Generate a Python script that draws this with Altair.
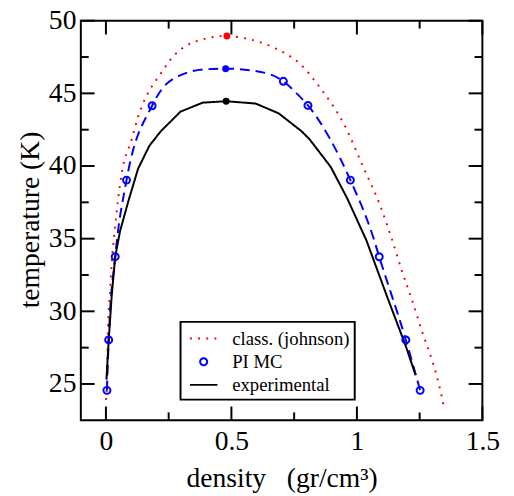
import altair as alt
import pandas as pd

SERIES = ["class. (johnson)", "PI MC", "experimental"]
COLORS = ["#ff0000", "#0000ff", "#000000"]

# classical (johnson) curve
class_x = [0.000, 0.004, 0.008, 0.017, 0.023, 0.034, 0.062, 0.102, 0.134, 0.167, 0.212, 0.271, 0.323, 0.382,
           0.482, 0.551, 0.675, 0.775, 0.857, 0.948, 1.026, 1.091, 1.137, 1.180, 1.221, 1.260, 1.300, 1.319, 1.336, 1.348]
class_t = [23.9, 25.0, 28.8, 31.5, 33.3, 35.4, 39.4, 41.8, 43.7, 45.0, 46.2, 47.6, 48.3, 48.7,
           48.95, 48.8, 48.1, 47.0, 45.3, 42.9, 39.9, 37.35, 35.1, 32.75, 30.7, 28.6, 26.6, 25.5, 24.3, 23.3]

# PI MC points
pimc_x = [0.004, 0.011, 0.037, 0.082, 0.184, 0.707, 0.805, 0.974, 1.089, 1.195, 1.252]
pimc_t = [24.56, 28.03, 33.76, 39.03, 44.15, 45.83, 44.17, 39.03, 33.75, 28.03, 24.56]

# PI MC dashed curve
fit_x = [0.004, 0.011, 0.037, 0.082, 0.184, 0.219, 0.297, 0.400, 0.477, 0.596, 0.707, 0.766, 0.805,
         0.974, 1.065, 1.089, 1.195, 1.252]
fit_t = [24.56, 28.03, 33.76, 39.03, 44.15, 45.2, 46.25, 46.66, 46.7, 46.54, 45.83, 44.9, 44.17,
         39.03, 35.1, 33.75, 28.03, 24.56]

# experimental curve
exp_x = [0.002, 0.011, 0.023, 0.037, 0.056, 0.089, 0.128, 0.173, 0.219, 0.297, 0.385, 0.479, 0.596,
         0.688, 0.779, 0.811, 0.896, 0.961, 1.038, 1.124, 1.195, 1.234]
exp_t = [25.3, 28.0, 31.06, 33.76, 35.5, 37.56, 39.81, 41.39, 42.4, 43.74, 44.36, 44.46, 44.3,
         43.63, 42.4, 41.85, 39.93, 37.79, 34.88, 30.84, 27.6, 25.6]

# critical points (filled dots)
peak_x = [0.482, 0.477, 0.479]
peak_t = [48.95, 46.7, 44.46]

x_major = [0, 0.5, 1.0, 1.5]
x_minor = [0.25, 0.75, 1.25]
y_major = [25, 30, 35, 40, 45, 50]
y_minor = [27.5, 32.5, 37.5, 42.5, 47.5]

FONT = "Liberation Serif"
W = 408
H = 406
MAJ = 14
MIN = 8

xscale = alt.Scale(domain=[-0.1, 1.5], nice=False, zero=False)
yscale = alt.Scale(domain=[22.5, 50], nice=False, zero=False)
color_scale = alt.Scale(domain=SERIES, range=COLORS)
fill_scale = alt.Scale(domain=SERIES, range=COLORS)
dash_scale = alt.Scale(domain=SERIES, range=[[2, 6.3], [1, 0], [1, 0]])
STROKE_PATH = "M-1.3,0L1.3,0"
# circle traced forth and back so that its filled area is zero (an open ring)
CIRCLE_PATH = ("M-0.33,0A0.33,0.33,0,1,0,0.33,0A0.33,0.33,0,1,0,-0.33,0"
               "A0.33,0.33,0,1,1,0.33,0A0.33,0.33,0,1,1,-0.33,0")
shape_scale = alt.Scale(domain=SERIES, range=[STROKE_PATH, CIRCLE_PATH, STROKE_PATH])

legend = alt.Legend(title=None, orient="none", legendX=101.3, legendY=306,
                    labelFont=FONT, labelFontSize=19, labelColor="black",
                    symbolSize=463, symbolStrokeWidth=2, padding=5, rowPadding=1.5,
                    symbolOffset=6.5, labelOffset=17, strokeColor="black",
                    fillColor="white", cornerRadius=0, labelLimit=300,
                    symbolFillColor="transparent")

xaxis = alt.Axis(values=x_major, format="~g", ticks=False, domain=False, grid=False,
                 labelPadding=8, labelFlush=False, labelOverlap=False,
                 title="density\u00a0\u00a0\u00a0(gr/cm\u00b3)",
                 titleY=67, titleX=204)
yaxis = alt.Axis(values=y_major, format="d", ticks=False, domain=False, grid=False,
                 labelPadding=5, labelFlush=False, labelOverlap=False,
                 title="temperature (K)",
                 titleX=-43.5, titleY=202, titleAngle=270)

class_df = pd.DataFrame({"x": class_x, "t": class_t, "series": SERIES[0]})
exp_df = pd.DataFrame({"x": exp_x, "t": exp_t, "series": SERIES[2]})
fit_df = pd.DataFrame({"x": fit_x, "t": fit_t})
pimc_df = pd.DataFrame({"x": pimc_x, "t": pimc_t, "series": SERIES[1]})
peak_df = pd.DataFrame({"x": peak_x, "t": peak_t, "series": SERIES})

X = alt.X("x:Q", scale=xscale, axis=xaxis)
Y = alt.Y("t:Q", scale=yscale, axis=yaxis)

red = alt.Chart(class_df).mark_line(strokeWidth=2, interpolate="monotone", strokeCap="butt").encode(
    x=X, y=Y,
    color=alt.Color("series:N", scale=color_scale, legend=legend),
    strokeDash=alt.StrokeDash("series:N", scale=dash_scale, legend=legend),
)
black = alt.Chart(exp_df).mark_line(strokeWidth=2).encode(
    x=X, y=Y,
    color=alt.Color("series:N", scale=color_scale, legend=legend),
    strokeDash=alt.StrokeDash("series:N", scale=dash_scale, legend=legend),
)
blue = alt.Chart(fit_df).mark_line(strokeWidth=2, color="#0000ff", strokeDash=[10, 6],
                                   interpolate="monotone", strokeCap="butt").encode(x=X, y=Y)
circles = alt.Chart(pimc_df).mark_point(filled=False, size=463, strokeWidth=2, opacity=1).encode(
    x=X, y=Y,
    color=alt.Color("series:N", scale=color_scale, legend=legend),
    shape=alt.Shape("series:N", scale=shape_scale, legend=legend),
)
peaks = alt.Chart(peak_df).mark_circle(size=50, opacity=1).encode(
    x=X, y=Y,
    fill=alt.Fill("series:N", scale=fill_scale, legend=None),
)


def ticks(vals, side, length):
    df = pd.DataFrame({"v": vals})
    base = alt.Chart(df).mark_rule(color="black", strokeWidth=2)
    if side == "left":
        return base.encode(y=alt.Y("v:Q", scale=yscale, axis=yaxis), x=alt.value(0), x2=alt.value(length))
    if side == "right":
        return base.encode(y=alt.Y("v:Q", scale=yscale, axis=yaxis), x=alt.value(W), x2=alt.value(W - length))
    if side == "top":
        return base.encode(x=alt.X("v:Q", scale=xscale, axis=xaxis), y=alt.value(0), y2=alt.value(length))
    return base.encode(x=alt.X("v:Q", scale=xscale, axis=xaxis), y=alt.value(H), y2=alt.value(H - length))


tick_layers = []
for side in ["left", "right"]:
    tick_layers.append(ticks(y_major, side, MAJ))
    tick_layers.append(ticks(y_minor, side, MIN))
for side in ["top", "bottom"]:
    tick_layers.append(ticks(x_major, side, MAJ))
    tick_layers.append(ticks(x_minor, side, MIN))

chart = alt.layer(red, blue, black, circles, peaks, *tick_layers).properties(
    width=W, height=H,
    autosize=alt.AutoSizeParams(type="none"),
    padding={"left": 74, "top": 9, "right": 24, "bottom": 73},
).configure_view(
    stroke="black", strokeWidth=2
).configure_axis(
    labelFont=FONT, labelFontSize=28, labelColor="black",
    titleFont=FONT, titleFontSize=28, titleFontWeight="normal", titleColor="black",
    titleBaseline="alphabetic",
).configure_legend(
    strokeWidth=2, labelFont=FONT, labelFontSize=19, labelColor="black",
    symbolFillColor="transparent",
)

chart.save("out.html", embed_options={"renderer": "svg", "actions": False})
